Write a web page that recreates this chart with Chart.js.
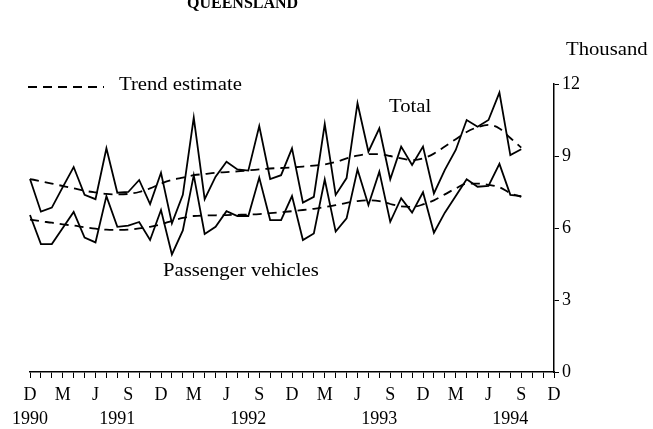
<!DOCTYPE html>
<html>
<head>
<meta charset="utf-8">
<script src="https://cdn.jsdelivr.net/npm/chart.js@4.4.0/dist/chart.umd.min.js"></script>
<style>
  html, body { margin: 0; padding: 0; background: #fff; }
  #wrap { width: 653px; height: 429px; }
</style>
</head>
<body>
<div id="wrap"><canvas id="chart" width="653" height="429"></canvas></div>
<script>
// Monthly, Dec 1990 .. Sep 1994 (thousand)
const totalValues = [
  8.04, 6.68, 6.85, 7.7, 8.54, 7.38, 7.2, 9.32, 7.47, 7.5, 8.0, 7.0,
  8.3, 6.19, 7.38, 10.6, 7.2, 8.14, 8.76, 8.44, 8.39, 10.25, 8.04, 8.2,
  9.32, 7.06, 7.3, 10.33, 7.38, 8.08, 11.2, 9.18, 10.15, 8.03, 9.39, 8.63,
  9.39, 7.44, 8.42, 9.25, 10.5, 10.22, 10.5, 11.64, 9.04, 9.28
];
const passengerValues = [
  6.54, 5.33, 5.33, 6.0, 6.67, 5.6, 5.4, 7.33, 6.05, 6.1, 6.25, 5.5,
  6.75, 4.9, 5.9, 8.2, 5.75, 6.05, 6.7, 6.5, 6.5, 8.1, 6.33, 6.33,
  7.33, 5.5, 5.77, 8.02, 5.85, 6.4, 8.44, 6.96, 8.35, 6.26, 7.24, 6.64,
  7.49, 5.8, 6.64, 7.33, 8.03, 7.72, 7.75, 8.67, 7.38, 7.33
];
const totalTrend = [
  8.04, 7.95, 7.85, 7.75, 7.65, 7.55, 7.48, 7.42, 7.4, 7.42, 7.5, 7.65,
  7.85, 8.0, 8.1, 8.2, 8.25, 8.3, 8.33, 8.36, 8.4, 8.44, 8.48, 8.5,
  8.52, 8.56, 8.6, 8.65, 8.75, 8.9, 9.02, 9.08, 9.08, 9.0, 8.9, 8.83,
  8.9, 9.1, 9.4, 9.7, 10.0, 10.2, 10.3, 10.15, 9.75, 9.35
];
const passengerTrend = [
  6.35, 6.28, 6.22, 6.15, 6.1, 6.03, 5.97, 5.93, 5.92, 5.93, 5.98, 6.05,
  6.15, 6.3, 6.42, 6.5, 6.52, 6.53, 6.54, 6.55, 6.56, 6.58, 6.62, 6.66,
  6.7, 6.75, 6.8, 6.87, 6.95, 7.05, 7.12, 7.15, 7.12, 7.0, 6.9, 6.88,
  6.98, 7.15, 7.4, 7.65, 7.85, 7.85, 7.8, 7.7, 7.45, 7.3
];

// x axis: one category per month, Dec 1990 .. Dec 1994
const monthLetters = ['D', 'J', 'F', 'M', 'A', 'M', 'J', 'J', 'A', 'S', 'O', 'N'];
const yearLabels = ['1990', '1991', '1992', '1993', '1994'];
const yearAtMonth = [0, 8, 20, 32, 44];
const yTicks = [0, 3, 6, 9, 12];

const months = [];
for (let i = 0; i <= 48; i++) months.push(monthLetters[i % 12]);

const serif = '"Liberation Serif", "DejaVu Serif", serif';

function stretchText(ctx, text, x, y, size, bold, sx) {
  ctx.save();
  ctx.font = (bold ? 'bold ' : '') + size + 'px ' + serif;
  ctx.fillStyle = '#000';
  ctx.textBaseline = 'alphabetic';
  ctx.textAlign = 'left';
  ctx.translate(x, y);
  ctx.scale(sx || 1.15, 1);
  ctx.fillText(text, 0, 0);
  ctx.restore();
}

const labelsPlugin = {
  id: 'labels',
  afterDraw(chart) {
    const ctx = chart.ctx;
    stretchText(ctx, 'QUEENSLAND', 187, 8, 16, true, 1);
    stretchText(ctx, 'Thousand', 566, 55, 18);
    // legend sample
    ctx.save();
    ctx.strokeStyle = '#000';
    ctx.lineWidth = 1.8;
    ctx.setLineDash([9, 6]);
    ctx.beginPath();
    ctx.moveTo(28, 87);
    ctx.lineTo(104, 87);
    ctx.stroke();
    ctx.restore();
    stretchText(ctx, 'Trend estimate', 119, 90, 18);
    stretchText(ctx, 'Total', 389, 112, 18);
    stretchText(ctx, 'Passenger vehicles', 163, 276, 18);
  }
};

new Chart(document.getElementById('chart'), {
  type: 'line',
  data: {
    labels: months,
    datasets: [
      { data: totalValues, borderColor: '#000', borderWidth: 1.8, pointRadius: 0, tension: 0 },
      { data: passengerValues, borderColor: '#000', borderWidth: 1.8, pointRadius: 0, tension: 0 },
      { data: totalTrend, borderColor: '#000', borderWidth: 1.8, borderDash: [9, 6], pointRadius: 0, cubicInterpolationMode: 'monotone' },
      { data: passengerTrend, borderColor: '#000', borderWidth: 1.8, borderDash: [9, 6], pointRadius: 0, cubicInterpolationMode: 'monotone' }
    ]
  },
  options: {
    responsive: false,
    animation: false,
    layout: { padding: { left: 30, top: 84, right: 0, bottom: 0 } },
    plugins: { legend: { display: false }, tooltip: { enabled: false } },
    scales: {
      x: {
        type: 'category',
        offset: false,
        afterFit(s) { s.height = 57; },
        border: { display: true, color: '#000', width: 1.5 },
        grid: { drawOnChartArea: false, drawTicks: true, tickLength: 6, color: '#000', lineWidth: 1 },
        ticks: {
          autoSkip: false,
          maxRotation: 0,
          padding: 6,
          color: '#000',
          font: { family: serif, size: 18, lineHeight: 1.3 },
          callback(value, index) {
            const letter = index % 3 === 0 ? months[index] : '';
            const y = yearAtMonth.indexOf(index);
            if (y >= 0) return [letter, yearLabels[y]];
            return letter;
          }
        }
      },
      y: {
        position: 'right',
        min: 0,
        max: 12,
        afterFit(s) { s.width = 99; },
        afterBuildTicks(s) { s.ticks = yTicks.map(v => ({ value: v })); },
        border: { display: true, color: '#000', width: 1.5 },
        grid: { drawOnChartArea: false, drawTicks: true, tickLength: 5, color: '#000', lineWidth: 1 },
        ticks: {
          padding: 3,
          color: '#000',
          font: { family: serif, size: 18 }
        }
      }
    }
  },
  plugins: [labelsPlugin]
});
</script>
</body>
</html>
